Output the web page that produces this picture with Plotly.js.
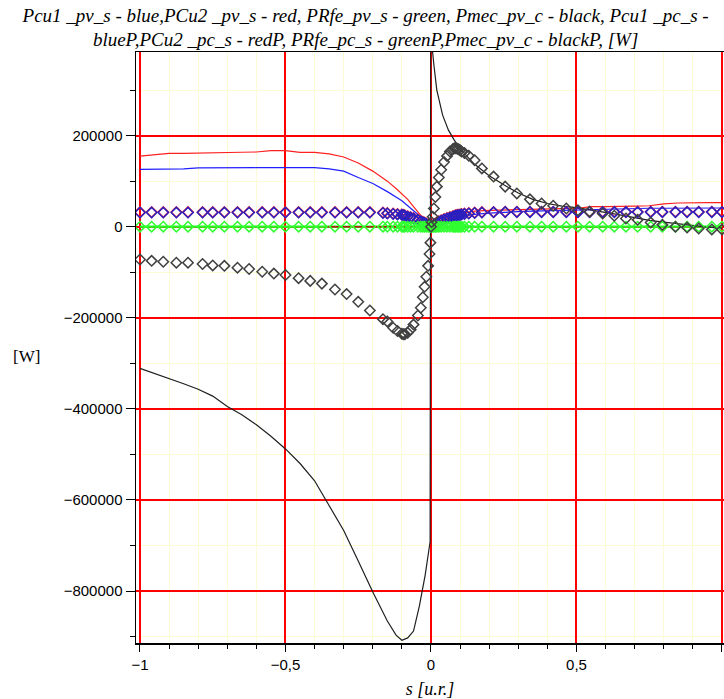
<!DOCTYPE html>
<html>
<head>
<meta charset="utf-8">
<script src="https://cdn.plot.ly/plotly-3.0.1.min.js"></script>
<style>html,body{margin:0;padding:0;background:#fff;}#chart{width:724px;height:699px;}</style>
</head>
<body>
<div id="chart"></div>
<script>
// ---- Data (values in W) ----
// line series share sLine
const sLine = [-1,-0.95,-0.9,-0.85,-0.8,-0.75,-0.7,-0.65,-0.6,-0.55,-0.5,-0.45,-0.4,-0.35,-0.3,-0.25,-0.2,-0.15,-0.12,-0.1,-0.08,-0.06,-0.04,-0.02,-0.01,-0.003,0,0.003,0.01,0.02,0.04,0.06,0.08,0.1,0.12,0.15,0.2,0.25,0.3,0.35,0.4,0.45,0.5,0.55,0.6,0.65,0.7,0.75,0.8,0.85,0.9,0.95,1];
const Pcu1_pv_s = [126000,126000,126000,127000,129000,129500,129500,129500,129500,129500,129500,129500,129500,127000,122000,108000,95000,77000,66000,57000,46000,35000,24000,14000,7500,2000,0,1000,3000,6000,11000,16000,20000,22000,24000,27000,30000,32000,33000,34000,35000,36000,37000,38000,39000,40000,40000,40500,40500,41000,41000,41000,41000];
const PCu2_pv_s = [155000,158000,161000,161000,162000,163000,163500,163500,164000,167000,167000,163000,163000,160000,153000,140000,122000,100000,84000,73000,60000,44000,28000,13000,5000,1500,0,1000,4000,8000,15000,21000,25000,28000,31000,34000,36000,37000,38000,38500,39000,39500,40000,44000,44000,44000,45000,46000,50000,52000,53000,53000,53000];
const PRfe_pv_s = [0,0,0,0,0,0,0,0,0,0,0,0,0,0,0,0,0,0,0,0,0,0,0,0,0,0,0,0,0,0,0,0,0,0,0,0,0,0,0,0,0,0,0,0,0,0,0,0,0,0,0,0,0];
const Pmec_pv_c = [-311000,-322000,-333000,-345000,-357000,-372000,-395000,-413000,-435000,-460000,-488000,-520000,-558000,-612000,-667000,-734000,-802000,-866000,-897000,-908000,-903000,-888000,-833000,-765000,-720000,-692000,1000000,400000,355000,300000,245000,212000,190000,172000,157000,137000,112000,92000,74000,60000,51000,45000,42000,37000,31000,26000,20000,14000,10000,6000,2000,-1000,-3000];
// short red segment lying on zero near s<0
const sRedZero = [-0.36,-0.3,-0.2,-0.1,0];
const redZero = [0,0,0,0,0];

// point series share sP
const sP = [-1,-0.96,-0.92,-0.875,-0.835,-0.785,-0.75,-0.71,-0.665,-0.625,-0.58,-0.54,-0.5,-0.455,-0.415,-0.375,-0.33,-0.29,-0.25,-0.21,-0.165,-0.15,-0.13,-0.115,-0.1,-0.095,-0.09,-0.08,-0.07,-0.06,-0.045,-0.035,-0.028,-0.022,-0.016,-0.01,-0.005,-0.002,0,
  0.002,0.006,0.01,0.015,0.02,0.027,0.035,0.045,0.055,0.065,0.075,0.08,0.085,0.09,0.095,0.1,0.105,0.115,0.13,0.15,0.175,0.215,0.255,0.295,0.34,0.38,0.42,0.465,0.505,0.545,0.59,0.63,0.67,0.71,0.755,0.795,0.84,0.88,0.92,0.965,1];
const Pcu1_pc_s = [31000,31000,31000,31000,31000,31000,31000,31000,31000,31000,31000,31000,31000,31000,31000,31000,31000,31000,31000,31000,30000,29000,28000,27000,26000,25000,24000,22000,20000,18000,15000,12000,10000,8000,6000,4000,2000,1000,0,
  1000,2000,4000,6000,8000,11000,13000,16000,18000,20000,22000,23000,24000,25000,25000,26000,27000,28000,29000,30000,31000,31500,32000,32000,32000,32000,32000,32000,32000,32000,32000,32000,32000,32000,32000,32000,32000,32000,32000,32000,32000];
const PCu2_pc_s = [32000,32000,32000,32000,32000,32000,32000,32000,32000,32000,32000,32000,32000,32000,32000,32000,32000,32000,32000,32000,31000,30000,29000,28000,27000,26000,25000,23000,21000,19000,16000,13000,11000,9000,7000,5000,2500,1000,0,
  1000,2500,5000,7000,9000,12000,14000,17000,19000,21000,23000,24000,25000,26000,26000,27000,28000,29000,30000,31000,32000,32500,33000,33000,33000,33000,33000,33000,33000,33000,33000,33000,33000,33000,33000,33000,33000,33000,33000,33000,33000];
const PRfe_pc_s = [0,0,0,0,0,0,0,0,0,0,0,0,0,0,0,0,0,0,0,0,0,0,0,0,0,0,0,0,0,0,0,0,0,0,0,0,0,0,0,
  0,0,0,0,0,0,0,0,0,0,0,0,0,0,0,0,0,0,0,0,0,0,0,0,0,0,0,0,0,0,0,0,0,0,0,0,0,0,0,0,0];
const Pmec_pc_c = [-72000,-75000,-77000,-79000,-79000,-82000,-85000,-86000,-90000,-93000,-99000,-103000,-106000,-113000,-119000,-125000,-138000,-148000,-165000,-184000,-203000,-208000,-222000,-229000,-235000,-236000,-236000,-233000,-226000,-215000,-195000,-178000,-155000,-132000,-110000,-86000,-60000,-35000,0,
  10000,22000,40000,65000,88000,108000,125000,142000,155000,165000,170000,172000,172000,171000,170000,168000,165000,162000,156000,146000,128000,110000,88000,73000,60000,51000,46000,40000,36000,33000,29000,24000,18000,15000,9000,4000,0,-2000,-4000,-6000,-6000];

// tick labels and tick positions
const xTickVals = [-1,-0.5,0,0.5,1];
const xTickText = ['\u22121','\u22120,5','0','0,5','1'];
const xMinorVals = [-0.9,-0.8,-0.7,-0.6,-0.4,-0.3,-0.2,-0.1,0.1,0.2,0.3,0.4,0.6,0.7,0.8,0.9];
const yTickVals = [-800000,-600000,-400000,-200000,0,200000];
const yTickText = ['\u2212800000','\u2212600000','\u2212400000','\u2212200000','0','200000'];
const yMinorVals = [-900000,-700000,-500000,-300000,-100000,100000,300000];

const titleText = '<i>Pcu1 _pv_s - blue,PCu2 _pv_s - red, PRfe_pv_s - green, Pmec_pv_c - black, Pcu1 _pc_s -<br>blueP,PCu2 _pc_s - redP, PRfe_pc_s - greenP,Pmec_pv_c - blackP, [W]</i>';

const xRange = [-1.0137, 1.0069];
const yRange = [-914160, 383600];

// ---- Traces ----
function line(x, y, color, w) {
  return {x: x, y: y, type: 'scatter', mode: 'lines', line: {color: color, width: w}, hoverinfo: 'skip'};
}
function pts(x, y, color) {
  return {x: x, y: y, type: 'scatter', mode: 'markers',
    marker: {symbol: 'diamond-open', size: 8, color: color, line: {color: color, width: 1.5}}, hoverinfo: 'skip'};
}
const traces = [
  // empty traces that only carry the grid axes
  {x: [], y: [], type: 'scatter', mode: 'lines', xaxis: 'x2', yaxis: 'y2', hoverinfo: 'skip'},
  {x: [], y: [], type: 'scatter', mode: 'lines', xaxis: 'x3', yaxis: 'y3', hoverinfo: 'skip'},
  line(sLine, Pcu1_pv_s, '#2020ff', 1.2),
  line(sLine, PCu2_pv_s, '#ff2020', 1.2),
  line(sLine, PRfe_pv_s, '#20ff20', 2.2),
  line(sRedZero, redZero, '#b02010', 1.5),
  line(sLine, Pmec_pv_c, '#202020', 1.2),
  pts(sP, PCu2_pc_s, '#ff3030'),
  pts(sP, Pcu1_pc_s, '#2a20c0'),
  pts(sP, PRfe_pc_s, '#30ff30'),
  pts(sP, Pmec_pc_c, '#404040')
];

const serif = 'Liberation Serif, Times New Roman, serif';
const tickFont = {family: 'Liberation Sans, Arial, sans-serif', size: 15, color: '#000'};
const layout = {
  width: 724, height: 699,
  margin: {l: 136, r: 0, t: 52, b: 56},
  paper_bgcolor: '#fff', plot_bgcolor: '#fff',
  showlegend: false,
  title: {text: titleText, x: 0.505, xref: 'container', xanchor: 'center', y: 0.969, yref: 'container', yanchor: 'middle',
          font: {family: serif, size: 19, color: '#000'}},
  xaxis: {
    range: xRange, tickmode: 'array', tickvals: xTickVals, ticktext: xTickText,
    ticks: 'outside', ticklen: 7, tickwidth: 1, tickcolor: '#000', tickfont: tickFont,
    showgrid: false, zeroline: false,
    showline: true, linecolor: '#000', linewidth: 1.5, mirror: true,
    title: {text: '<i>s [u.r.]</i>', standoff: 11, font: {family: serif, size: 18, color: '#000'}},
    fixedrange: true
  },
  yaxis: {
    range: yRange, tickmode: 'array', tickvals: yTickVals, ticktext: yTickText,
    ticks: 'outside', ticklen: 9, tickwidth: 1, tickcolor: '#000', tickfont: tickFont,
    showgrid: false, zeroline: false,
    showline: true, linecolor: '#000', linewidth: 1.5, mirror: true,
    fixedrange: true
  },
  // minor (pale yellow) grid
  xaxis2: {
    overlaying: 'x', side: 'bottom', range: xRange, tickmode: 'array', tickvals: xMinorVals,
    ticks: 'outside', ticklen: 5, tickcolor: '#000', showticklabels: false,
    showgrid: true, gridcolor: '#fbfbd5', gridwidth: 1, zeroline: false, showline: false, fixedrange: true
  },
  yaxis2: {
    overlaying: 'y', side: 'left', range: yRange, tickmode: 'array', tickvals: yMinorVals,
    ticks: 'outside', ticklen: 5, tickcolor: '#000', showticklabels: false,
    showgrid: true, gridcolor: '#fbfbd5', gridwidth: 1, zeroline: false, showline: false, fixedrange: true
  },
  // major (red) grid
  xaxis3: {
    overlaying: 'x', side: 'bottom', range: xRange, tickmode: 'array', tickvals: xTickVals,
    ticks: '', showticklabels: false,
    showgrid: true, gridcolor: '#ff0000', gridwidth: 2, zeroline: false, showline: false, fixedrange: true
  },
  yaxis3: {
    overlaying: 'y', side: 'left', range: yRange, tickmode: 'array', tickvals: yTickVals,
    ticks: '', showticklabels: false,
    showgrid: true, gridcolor: '#ff0000', gridwidth: 2, zeroline: false, showline: false, fixedrange: true
  },
  annotations: [{
    text: '[W]', xref: 'paper', yref: 'paper', x: -0.187, y: 0.484, xanchor: 'center', yanchor: 'middle', showarrow: false,
    font: {family: serif, size: 17, color: '#000'}
  }]
};

Plotly.newPlot('chart', traces, layout, {staticPlot: true, displayModeBar: false});
</script>
</body>
</html>
